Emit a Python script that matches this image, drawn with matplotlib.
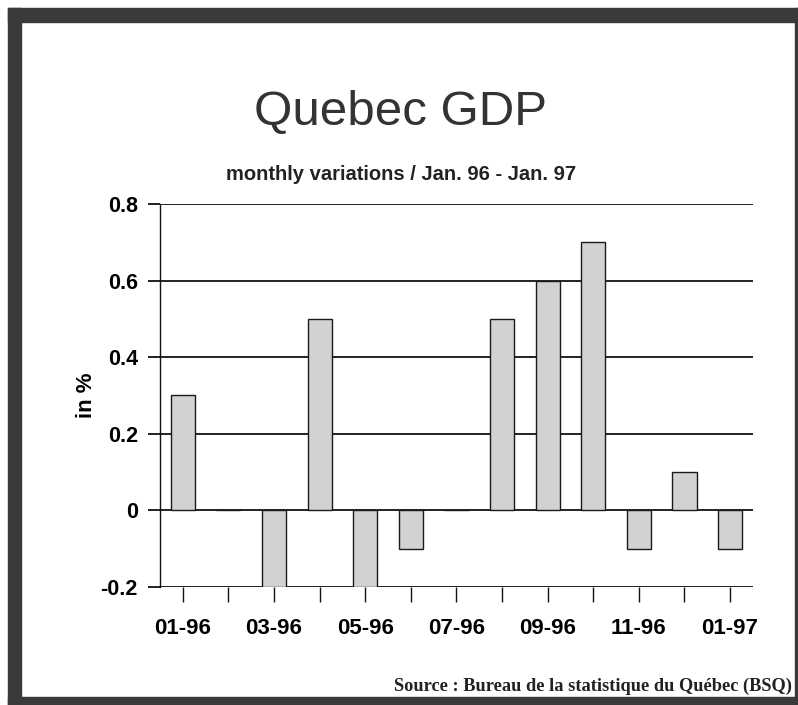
import matplotlib.pyplot as plt
from matplotlib.patches import Rectangle

# Monthly GDP variations, Jan. 96 - Jan. 97
months = ['01-96', '02-96', '03-96', '04-96', '05-96', '06-96', '07-96',
          '08-96', '09-96', '10-96', '11-96', '12-96', '01-97']
variation = [0.3, 0.0, -0.2, 0.5, -0.2, -0.1, 0.0, 0.5, 0.6, 0.7, -0.1, 0.1, -0.1]
yticks = [-0.2, 0, 0.2, 0.4, 0.6, 0.8]
ytick_labels = ['-0.2', '0', '0.2', '0.4', '0.6', '0.8']

plt.rcParams['font.family'] = ['Liberation Sans', 'DejaVu Sans']

fig = plt.figure(figsize=(7.98, 7.05), dpi=100)
ax = fig.add_axes([0.2005, 0.1674, 0.743, 0.5433])

x = list(range(len(months)))
ax.bar(x, variation, width=0.53, color='#d2d2d2', edgecolor='#1a1a1a',
       linewidth=1.0, zorder=3)

ax.set_xlim(-0.5, 12.5)
ax.set_ylim(-0.2, 0.8)
ax.set_yticks(yticks)
ax.set_yticklabels(ytick_labels, fontsize=15.5, fontweight='bold')
ax.set_xticks(x)
ax.set_xticklabels([m if i % 2 == 0 else '' for i, m in enumerate(months)],
                   fontsize=16, fontweight='bold')

ax.yaxis.grid(True, color='#111111', linewidth=1.3, zorder=1)
ax.tick_params(axis='y', direction='out', length=9, width=1.3, pad=7,
               color='#111111')
ax.tick_params(axis='x', direction='out', length=11, width=1.0, pad=11,
               color='#111111')

for side in ['top', 'right', 'bottom']:
    ax.spines[side].set_visible(False)
ax.spines['left'].set_linewidth(1.0)
ax.spines['left'].set_color('#111111')

ax.set_ylabel('in %', fontsize=16, fontweight='bold', labelpad=2.5)

# Titles
fig.text(0.502, 0.841, 'Quebec GDP', fontsize=35.5, color='#333333',
         ha='center', va='center')
fig.text(0.502, 0.752, 'monthly variations / Jan. 96 - Jan. 97', fontsize=14.5,
         fontweight='bold', color='#222222', ha='center', va='center')
fig.text(0.992, 0.027, 'Source : Bureau de la statistique du Québec (BSQ)',
         fontsize=13.2, fontweight='bold', family=['Liberation Serif', 'DejaVu Serif'],
         color='#222222', ha='right', va='center')

# Dark frame around the chart
W, H = 798, 705
frame_color = '#3a3a3a'
for (x0, y0, w, h) in [(8, 8, 13, 697), (8, 8, 790, 14),
                       (8, 697, 790, 8), (795, 8, 3, 697)]:
    fig.add_artist(Rectangle((x0 / W, 1 - (y0 + h) / H), w / W, h / H,
                             transform=fig.transFigure, color=frame_color,
                             zorder=10))

fig.savefig('out.png', dpi=100)
